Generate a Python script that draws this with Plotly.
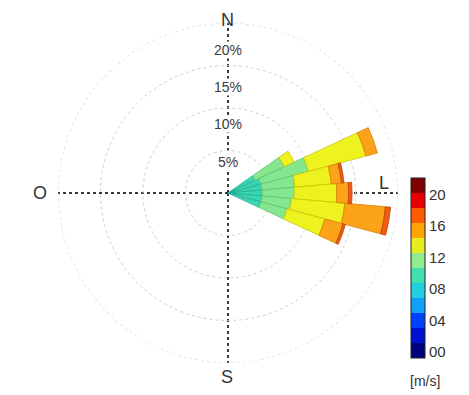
import plotly.graph_objects as go

# ---- data (percent frequency per direction, stacked by speed bin) ----
directions = [60, 70, 80, 90, 100, 110]          # compass degrees
bin_names = ["06-08", "08-10", "10-12", "12-14", "14-16", "16-18"]
freq_06_08 = [0.8, 0.8, 0.8, 0.8, 0.8, 0.8]
freq_08_10 = [2.7, 3.2, 3.2, 3.2, 3.2, 3.2]
freq_10_12 = [3.8, 5.8, 3.9, 3.8, 3.5, 3.2]
freq_12_14 = [1.3, 7.0, 4.3, 5.0, 6.3, 4.6]
freq_14_16 = [0.0, 1.4, 1.2, 1.4, 4.8, 2.2]
freq_16_18 = [0.0, 0.0, 0.3, 0.4, 0.6, 0.3]
bin_values = [freq_06_08, freq_08_10, freq_10_12, freq_12_14, freq_14_16, freq_16_18]
bin_colors = ["#2ccfc4", "#38d6b2", "#84e68e", "#eef21e", "#fca31a", "#ee5c18"]
bin_edges = ["#1fa89f", "#2aae90", "#62c070", "#c8c800", "#d88000", "#c04000"]

radial_ticks = [5, 10, 15, 20]
radial_labels = ["5%", "10%", "15%", "20%"]
label_radius = [3.6, 8.1, 12.5, 16.8]

cbar_colors = ["#00007a", "#0010d0", "#0040ff", "#10a0f8", "#20d0e0", "#40e0b0",
               "#90ec90", "#e8ec20", "#ffa500", "#ff5a00", "#e80000", "#800000"]
cbar_min, cbar_max = -0.8, 22.1
cbar_ticks = [0, 4, 8, 12, 16, 20]
cbar_ticktext = ["00", "04", "08", "12", "16", "20"]

OFF = 8                      # page body margin
W, H = 469 - OFF, 395 - OFF
cx, cy, R = 228 - OFF, 193 - OFF, 170   # pixel geometry of the rose (figure px)
CB_X0, CB_X1, CB_TOP, CB_BOT = 411 - OFF, 425 - OFF, 178 - OFF, 358 - OFF

FONT = "Liberation Sans, Arial, sans-serif"

fig = go.Figure()
for name, vals, col, edge in zip(bin_names, bin_values, bin_colors, bin_edges):
    fig.add_trace(go.Barpolar(
        r=vals, theta=directions, width=[10] * len(directions), name=name,
        marker=dict(color=col, line=dict(color=edge, width=0.8)),
        showlegend=False, hoverinfo="skip"))

# outer 20% ring (range boundary gridline)
ring_theta = list(range(0, 361, 2))
fig.add_trace(go.Scatterpolar(
    r=[radial_ticks[-1]] * len(ring_theta), theta=ring_theta, mode="lines",
    line=dict(color="#cfcfcf", width=1.2, dash="dot"), showlegend=False, hoverinfo="skip"))

# discrete colour scale
n = len(cbar_colors)
scale = []
for i, c in enumerate(cbar_colors):
    scale.append([i / n, c])
    scale.append([(i + 1) / n, c])
step = (cbar_max - cbar_min) / n
sep_vals = [cbar_min + step * k for k in range(1, n)]
cb_len = CB_BOT - CB_TOP

fig.add_trace(go.Scatterpolar(
    r=[0], theta=[0], mode="markers", showlegend=False, hoverinfo="skip",
    marker=dict(size=1, opacity=0, color=[0], cmin=cbar_min, cmax=cbar_max,
                colorscale=scale, showscale=True,
                colorbar=dict(thickness=CB_X1 - CB_X0, lenmode="fraction", len=cb_len / H,
                              ypad=0, xpad=0, x=CB_X0 / W, xanchor="left",
                              y=(H - (CB_TOP + CB_BOT) / 2) / H, yanchor="middle",
                              outlinecolor="#222", outlinewidth=1,
                              tickvals=cbar_ticks, ticktext=cbar_ticktext, ticks="",
                              tickfont=dict(family=FONT, size=15, color="#333")))))

shapes = []
for v in sep_vals:
    yy = CB_BOT - (v - cbar_min) / (cbar_max - cbar_min) * cb_len
    shapes.append(dict(type="line", xref="paper", yref="paper",
                       x0=CB_X0 / W, x1=CB_X1 / W, y0=(H - yy) / H, y1=(H - yy) / H,
                       line=dict(color="#222", width=1)))

fig.update_layout(
    width=W, height=H, margin=dict(l=0, r=0, t=0, b=0),
    paper_bgcolor="white", plot_bgcolor="white",
    polar=dict(
        domain=dict(x=[(cx - R) / W, (cx + R) / W], y=[(H - cy - R) / H, (H - cy + R) / H]),
        bgcolor="white", barmode="stack",
        radialaxis=dict(range=[0, 20], tickvals=radial_ticks, showticklabels=False,
                        ticks="", showline=False, gridcolor="#cfcfcf", griddash="dot",
                        gridwidth=1.2),
        angularaxis=dict(rotation=90, direction="clockwise", tickvals=[0, 90, 180, 270],
                         showticklabels=False, ticks="", showline=False,
                         gridcolor="#3a3a3a", griddash="dot", gridwidth=1.6),
    ),
    shapes=shapes,
)

ann = []
for txt, rr in zip(radial_labels, label_radius):
    ann.append(dict(text=txt, x=cx / W, y=(H - cy + rr / 20 * R) / H, xref="paper", yref="paper",
                    showarrow=False, font=dict(family=FONT, size=14, color="#3a3a3a"),
                    bgcolor="white", borderpad=0, xanchor="center", yanchor="middle"))
compass = [("N", 227, 20), ("S", 227, 377), ("O", 40, 193), ("L", 384, 183)]
for txt, px, py in compass:
    ann.append(dict(text=txt, x=(px - OFF) / W, y=(H - (py - OFF)) / H, xref="paper", yref="paper",
                    showarrow=False, font=dict(family=FONT, size=18, color="#333"),
                    xanchor="center", yanchor="middle"))
ann.append(dict(text="[m/s]", x=(425 - OFF) / W, y=(H - (381 - OFF)) / H, xref="paper", yref="paper",
                showarrow=False, font=dict(family=FONT, size=14, color="#333"),
                xanchor="center", yanchor="middle"))
fig.update_layout(annotations=ann)

fig.write_html("out.html")
